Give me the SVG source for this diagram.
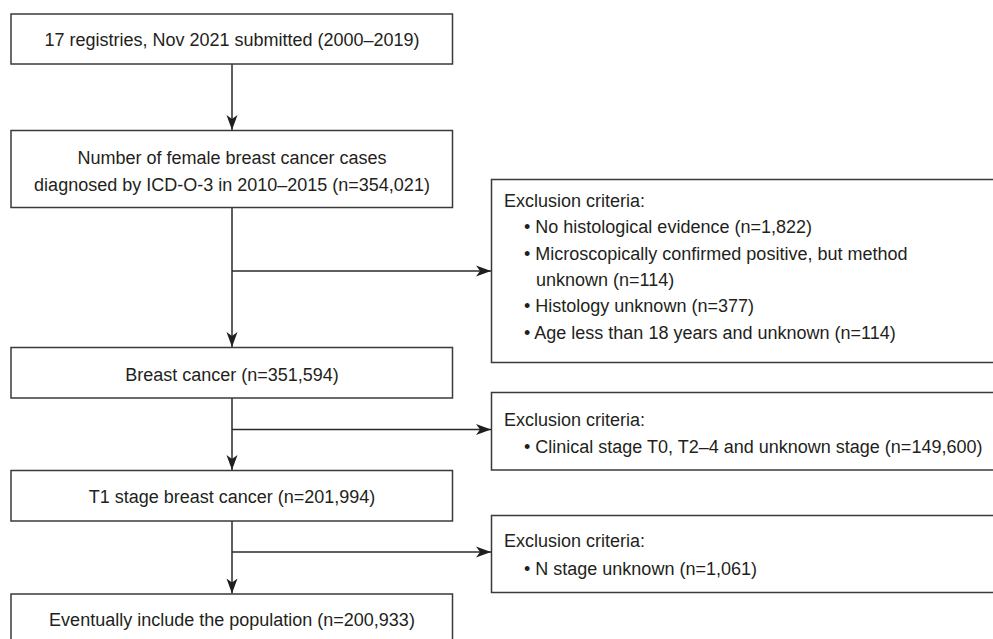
<svg xmlns="http://www.w3.org/2000/svg" width="993" height="639" viewBox="0 0 993 639">
<style>
.box{fill:#fff;stroke:#3a3a3a;stroke-width:1.5}
.t{font-family:"Liberation Sans",Arial,sans-serif;font-size:18px;fill:#231f20}
.c{text-anchor:middle}
.ln{fill:none;stroke:#2a2a2a;stroke-width:1.5}
</style>
<defs>
<marker id="ah" markerUnits="userSpaceOnUse" markerWidth="16" markerHeight="12" refX="15" refY="6" orient="auto">
<path d="M0,0.5 L15,6 L0,11.5 L4,6 z" fill="#1f1f1f"/>
</marker>
</defs>
<rect width="993" height="639" fill="#fff"/>
<g id="connectors">
<line class="ln" x1="232" y1="64" x2="232" y2="130" marker-end="url(#ah)"/>
<line class="ln" x1="232" y1="207" x2="232" y2="347" marker-end="url(#ah)"/>
<line class="ln" x1="232" y1="271" x2="491" y2="271" marker-end="url(#ah)"/>
<line class="ln" x1="232" y1="398" x2="232" y2="470" marker-end="url(#ah)"/>
<line class="ln" x1="232" y1="429.5" x2="491" y2="429.5" marker-end="url(#ah)"/>
<line class="ln" x1="232" y1="521" x2="232" y2="593.5" marker-end="url(#ah)"/>
<line class="ln" x1="232" y1="552" x2="491" y2="552" marker-end="url(#ah)"/>
</g>
<g id="n1">
<rect class="box" x="11" y="14" width="441.5" height="50"/>
<text class="t c" x="232" y="45.5">17 registries, Nov 2021 submitted (2000–2019)</text>
</g>
<g id="n2">
<rect class="box" x="11" y="130.5" width="441.5" height="77"/>
<text class="t c" x="232" y="164">Number of female breast cancer cases</text>
<text class="t c" x="232" y="190.5">diagnosed by ICD-O-3 in 2010–2015 (n=354,021)</text>
</g>
<g id="x1">
<rect class="box" x="491.5" y="179.5" width="520" height="183"/>
<text class="t" x="504" y="207">Exclusion criteria:</text>
<text class="t" x="524" y="233.3">• No histological evidence (n=1,822)</text>
<text class="t" x="524" y="259.6">• Microscopically confirmed positive, but method</text>
<text class="t" x="536" y="286">unknown (n=114)</text>
<text class="t" x="524" y="312.3">• Histology unknown (n=377)</text>
<text class="t" x="524" y="338.6">• Age less than 18 years and unknown (n=114)</text>
</g>
<g id="n3">
<rect class="box" x="11" y="347.5" width="441.5" height="50.5"/>
<text class="t c" x="232" y="380.5">Breast cancer (n=351,594)</text>
</g>
<g id="x2">
<rect class="box" x="491.5" y="392.5" width="520" height="77.5"/>
<text class="t" x="504" y="425.5">Exclusion criteria:</text>
<text class="t" x="524" y="452.5">• Clinical stage T0, T2–4 and unknown stage (n=149,600)</text>
</g>
<g id="n4">
<rect class="box" x="11" y="470.5" width="441.5" height="50.5"/>
<text class="t c" x="232" y="503">T1 stage breast cancer (n=201,994)</text>
</g>
<g id="x3">
<rect class="box" x="491.5" y="515.5" width="520" height="77"/>
<text class="t" x="504" y="547">Exclusion criteria:</text>
<text class="t" x="524" y="574.5">• N stage unknown (n=1,061)</text>
</g>
<g id="n5">
<rect class="box" x="11" y="594" width="441.5" height="60"/>
<text class="t c" x="232" y="626">Eventually include the population (n=200,933)</text>
</g>
</svg>
